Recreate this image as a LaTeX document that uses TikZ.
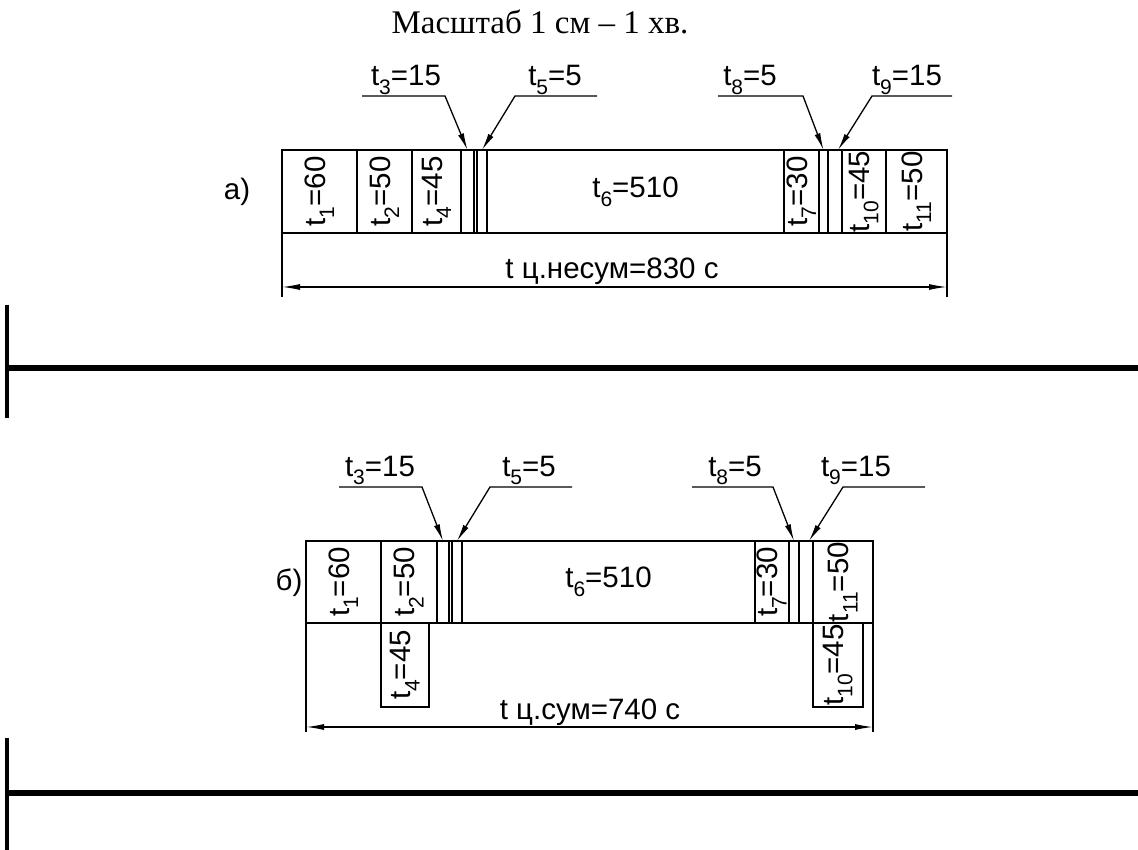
\documentclass[tikz,border=0pt]{standalone}
\usepackage{fontspec}
\setmainfont{Liberation Serif}
\newfontfamily\lsans{Liberation Sans}
\usetikzlibrary{arrows.meta}
\newcommand\tsub[1]{\raisebox{-0.3em}{\fontsize{21}{21}\selectfont #1}}
% name, x1, x2, y1, y2
\newcommand\cell[5]{\node[cellbox, minimum width={(#3-#2)*1pt}, minimum height={(#5-#4)*1pt}] (#1) at ({(#2+#3)/2},{(#4+#5)/2}) {};}
\begin{document}
\begin{tikzpicture}[x=1pt,y=-1pt,
 cellbox/.style={draw, line width=2.6pt, inner sep=0pt, outer sep=0pt},
 txt/.style={font=\lsans\fontsize{29.5}{31}\selectfont, inner sep=0pt},
 rot/.style={txt, rotate=90},
 leader/.style={line width=1.3pt, -{Latex[length=17pt,width=6pt]}},
 dimline/.style={line width=1.3pt, {Latex[length=18pt,width=6pt]}-{Latex[length=18pt,width=6pt]}},
 extline/.style={line width=1.5pt},
 sepline/.style={line width=6pt},
 sepbar/.style={line width=4pt}]
\useasboundingbox (0,0) rectangle (1138,850);

\node[font=\fontsize{33}{35}\selectfont, inner sep=0pt] (title) at (540,22) {Масштаб 1 см – 1 хв.};

% ---------- a)
\node[txt] (la) at (237,192) {а)};
\cell{boxa}{282}{947}{150}{233}
\cell{c1a}{282}{357}{150}{233}
\cell{c2a}{357}{412}{150}{233}
\cell{c4a}{412}{461}{150}{233}
\cell{s3a}{461}{474}{150}{233}
\cell{s5a}{477}{487}{150}{233}
\cell{c6a}{487}{784}{150}{233}
\cell{c7a}{784}{819}{150}{233}
\cell{s8a}{819}{828}{150}{233}
\cell{s9a}{828}{842}{150}{233}
\cell{c10a}{842}{886}{150}{233}
\cell{c11a}{886}{947}{150}{233}
\node[rot] (t1a) at (c1a.center) {t\tsub{1}=60};
\node[rot] (t2a) at (c2a.center) {t\tsub{2}=50};
\node[rot] (t4a) at (c4a.center) {t\tsub{4}=45};
\node[txt] (t6a) at (c6a.center) {t\tsub{6}=510};
\node[rot] (t7a) at (c7a.center) {t\tsub{7}=30};
\node[rot] (t10a) at (c10a.center) {t\tsub{10}=45};
\node[rot] (t11a) at (c11a.center) {t\tsub{11}=50};

\node[txt, anchor=base] (t3a) at (406,86) {t\tsub{3}=15};
\node[txt, anchor=base] (t5a) at (555,86) {t\tsub{5}=5};
\node[txt, anchor=base] (t8a) at (750,86) {t\tsub{8}=5};
\node[txt, anchor=base] (t9a) at (907,86) {t\tsub{9}=15};
\coordinate (l3aL) at (362,96); \coordinate (l3aR) at (445,96);
\coordinate (l5aL) at (515,96); \coordinate (l5aR) at (597,96);
\coordinate (l8aL) at (718,96); \coordinate (l8aR) at (803,96);
\coordinate (l9aL) at (872,96); \coordinate (l9aR) at (952,96);
\draw[leader] (l3aL) -- (l3aR) -- (s3a.north);
\draw[leader] (l5aR) -- (l5aL) -- (s5a.north);
\draw[leader] (l8aL) -- (l8aR) -- (s8a.north);
\draw[leader] (l9aR) -- (l9aL) -- ([xshift=3pt]s9a.north);

\coordinate (eaL) at (282,297); \coordinate (eaR) at (947,297);
\draw[extline] (boxa.south west) -- (eaL);
\draw[extline] (boxa.south east) -- (eaR);
\coordinate (daL) at (282,287); \coordinate (daR) at (947,287);
\draw[dimline] (daL) -- (daR);
\node[txt, anchor=base] (dta) at (612,279) {t ц.несум=830 с};

% separator 1
\draw[sepline] (6,368) -- (1138,368);
\draw[sepbar] (7,305) -- (7,418);

% ---------- б)
\node[txt] (lb) at (289,583) {б)};
\cell{boxb}{306}{873}{541}{623}
\cell{c1b}{306}{381}{541}{623}
\cell{c2b}{381}{437}{541}{623}
\cell{s3b}{437}{449}{541}{623}
\cell{s5b}{452}{462}{541}{623}
\cell{c6b}{462}{755}{541}{623}
\cell{c7b}{755}{789}{541}{623}
\cell{s8b}{789}{799}{541}{623}
\cell{s9b}{799}{813}{541}{623}
\cell{c11b}{813}{873}{541}{623}
\cell{c4b}{381}{429}{623}{707}
\cell{c10b}{813}{863}{623}{707}
\node[rot] (t1b) at (c1b.center) {t\tsub{1}=60};
\node[rot] (t2b) at (c2b.center) {t\tsub{2}=50};
\node[txt] (t6b) at (c6b.center) {t\tsub{6}=510};
\node[rot] (t7b) at (c7b.center) {t\tsub{7}=30};
\node[rot] (t11b) at (c11b.center) {t\tsub{11}=50};
\node[rot] (t4b) at (c4b.center) {t\tsub{4}=45};
\node[rot] (t10b) at (c10b.center) {t\tsub{10}=45};

\node[txt, anchor=base] (t3b) at (380,476) {t\tsub{3}=15};
\node[txt, anchor=base] (t5b) at (529,476) {t\tsub{5}=5};
\node[txt, anchor=base] (t8b) at (735,476) {t\tsub{8}=5};
\node[txt, anchor=base] (t9b) at (856,476) {t\tsub{9}=15};
\coordinate (l3bL) at (339,487); \coordinate (l3bR) at (422,487);
\coordinate (l5bL) at (490,487); \coordinate (l5bR) at (572,487);
\coordinate (l8bL) at (692,487); \coordinate (l8bR) at (773,487);
\coordinate (l9bL) at (843,487); \coordinate (l9bR) at (925,487);
\draw[leader] (l3bL) -- (l3bR) -- (s3b.north);
\draw[leader] (l5bR) -- (l5bL) -- (s5b.north);
\draw[leader] (l8bL) -- (l8bR) -- (s8b.north);
\draw[leader] (l9bR) -- (l9bL) -- ([xshift=3pt]s9b.north);

\coordinate (ebL) at (306,732); \coordinate (ebR) at (873,732);
\draw[extline] (boxb.south west) -- (ebL);
\draw[extline] (boxb.south east) -- (ebR);
\coordinate (dbL) at (306,727); \coordinate (dbR) at (873,727);
\draw[dimline] (dbL) -- (dbR);
\node[txt, anchor=base] (dtb) at (590,719) {t ц.сум=740 с};

% separator 2
\draw[sepline] (6,793) -- (1138,793);
\draw[sepbar] (7,738) -- (7,850);
\end{tikzpicture}
\end{document}
